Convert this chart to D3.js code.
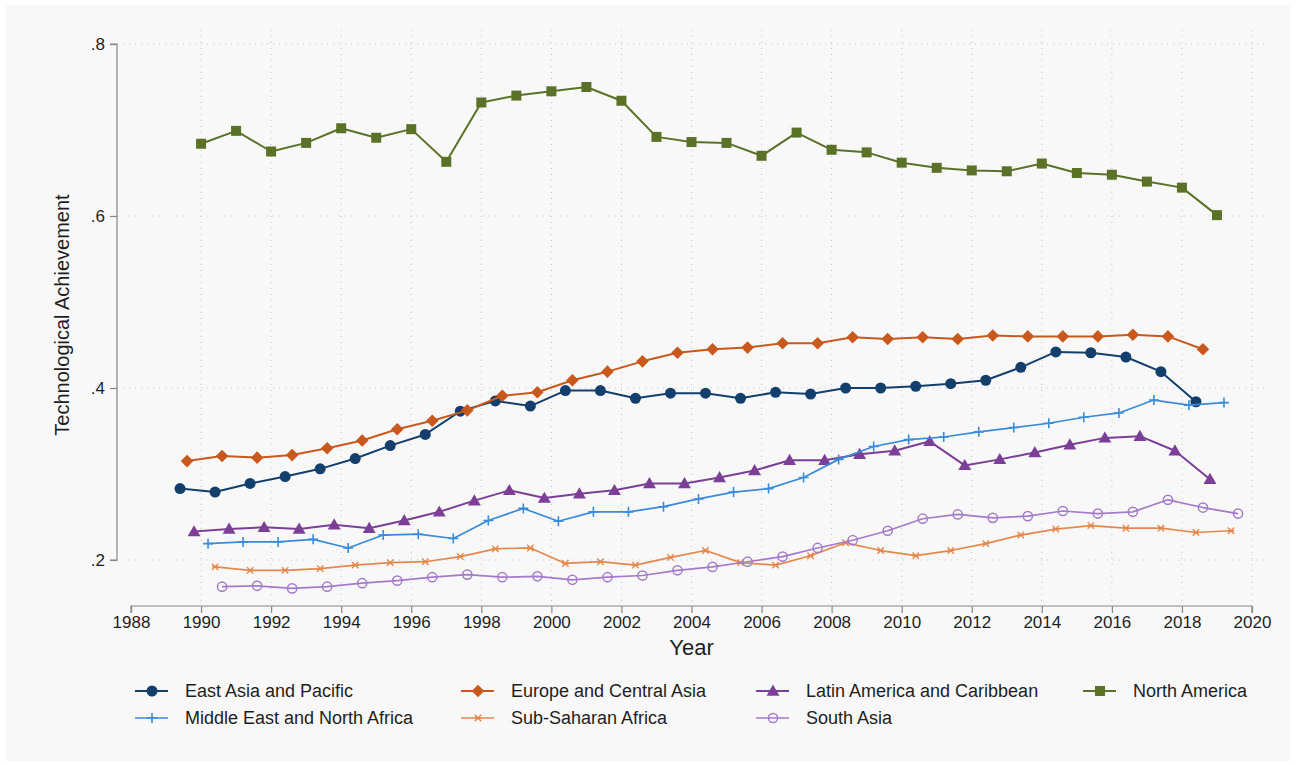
<!DOCTYPE html>
<html><head><meta charset="utf-8">
<script src="https://cdn.jsdelivr.net/npm/d3@7"></script>
<style>
body{margin:0;background:#fff}
svg{display:block}
text{font-family:"Liberation Sans",Arial,Helvetica,sans-serif;fill:#1e1e1e}
</style>
</head><body>
<svg id="c" width="1296" height="765"></svg>
<script>
const years = [1990,1991,1992,1993,1994,1995,1996,1997,1998,1999,2000,2001,2002,2003,2004,2005,2006,2007,2008,2009,2010,2011,2012,2013,2014,2015,2016,2017,2018,2019];
const xTicks = [1988,1990,1992,1994,1996,1998,2000,2002,2004,2006,2008,2010,2012,2014,2016,2018,2020];
const yTicks = [0.2,0.4,0.6,0.8];
const seriesNames = ["East Asia and Pacific","Europe and Central Asia","Latin America and Caribbean","North America","Middle East and North Africa","Sub-Saharan Africa","South Asia"];
const eastAsia = [0.283,0.279,0.289,0.297,0.306,0.318,0.333,0.346,0.373,0.385,0.379,0.397,0.397,0.388,0.394,0.394,0.388,0.395,0.393,0.400,0.400,0.402,0.405,0.409,0.424,0.442,0.441,0.436,0.419,0.384];
const europe = [0.315,0.321,0.319,0.322,0.330,0.339,0.352,0.362,0.374,0.391,0.395,0.409,0.419,0.431,0.441,0.445,0.447,0.452,0.452,0.459,0.457,0.459,0.457,0.461,0.460,0.460,0.460,0.462,0.460,0.445];
const latAm = [0.233,0.236,0.238,0.236,0.241,0.237,0.246,0.256,0.269,0.281,0.272,0.277,0.281,0.289,0.289,0.296,0.304,0.316,0.316,0.323,0.327,0.338,0.310,0.317,0.325,0.334,0.342,0.344,0.327,0.294];
const northAmerica = [0.684,0.699,0.675,0.685,0.702,0.691,0.701,0.663,0.732,0.740,0.745,0.750,0.734,0.692,0.686,0.685,0.670,0.697,0.677,0.674,0.662,0.656,0.653,0.652,0.661,0.650,0.648,0.640,0.633,0.601];
const mena = [0.219,0.221,0.221,0.224,0.214,0.229,0.230,0.225,0.246,0.260,0.245,0.256,0.256,0.262,0.271,0.279,0.283,0.296,0.317,0.332,0.340,0.343,0.349,0.354,0.359,0.366,0.371,0.386,0.380,0.383];
const ssa = [0.192,0.188,0.188,0.190,0.194,0.197,0.198,0.204,0.213,0.214,0.196,0.198,0.194,0.203,0.211,0.197,0.194,0.205,0.220,0.211,0.205,0.211,0.219,0.229,0.236,0.240,0.237,0.237,0.232,0.234];
const southAsia = [0.169,0.170,0.167,0.169,0.173,0.176,0.180,0.183,0.180,0.181,0.177,0.180,0.182,0.188,0.192,0.198,0.204,0.214,0.223,0.234,0.248,0.253,0.249,0.251,0.257,0.254,0.256,0.270,0.261,0.254];
const seriesValues = [eastAsia, europe, latAm, northAmerica, mena, ssa, southAsia];

const colors = ["#133f6d","#c9581d","#7b3f97","#5b7127","#3a8bd9","#e5884d","#a47bc9"];
const markers = ["circle","diamond","triangle","square","plus","cross","hollow"];

const svg = d3.select("#c");
svg.append("rect").attr("x",6).attr("y",5).attr("width",1284).attr("height",757).attr("fill","#f8f8f8");

const x = d3.scaleLinear().domain([1988,2020]).range([131,1252]);
const y = d3.scaleLinear().domain([0.2,0.8]).range([560,44]);

// grid
const grid = svg.append("g").attr("stroke","#c4c4c4").attr("stroke-width",1).attr("stroke-dasharray","1,5");
grid.selectAll("line.h").data(yTicks).join("line")
  .attr("x1",117).attr("x2",1266).attr("y1",d=>y(d)).attr("y2",d=>y(d));
grid.selectAll("line.v").data(xTicks.filter(d=>d>1988)).join("line")
  .attr("y1",30).attr("y2",604).attr("x1",d=>x(d)).attr("x2",d=>x(d));

// y axis
const yAxis = d3.axisLeft(y).tickValues(yTicks).tickSize(7).tickPadding(5)
  .tickFormat(d=>d3.format(".1f")(d).replace(/^0/,""));
const gy = svg.append("g").attr("transform","translate(117,0)").call(yAxis);
gy.select(".domain").attr("stroke","#888").attr("stroke-width",1.2).attr("d","M-7,"+y(0.8)+"H0V"+y(0.2)+"H-7");
gy.selectAll(".tick line").attr("stroke","#888").attr("stroke-width",1.2);
gy.selectAll(".tick text").attr("font-size",17).style("font-family","'Liberation Sans',Arial,sans-serif").attr("fill","#1e1e1e");

// x axis
const xAxis = d3.axisBottom(x).tickValues(xTicks).tickSize(7).tickPadding(3).tickFormat(d3.format("d"));
const gx = svg.append("g").attr("transform","translate(0,606)").call(xAxis);
gx.select(".domain").attr("stroke","#888").attr("stroke-width",1.2).attr("d","M"+x(1988)+",7V0H"+x(2020)+"V7");
gx.selectAll(".tick line").attr("stroke","#888").attr("stroke-width",1.2);
gx.selectAll(".tick text").attr("font-size",17).style("font-family","'Liberation Sans',Arial,sans-serif").attr("fill","#1e1e1e");

// titles
svg.append("text").attr("x",x(2004)).attr("y",655).attr("text-anchor","middle").attr("font-size",22).text("Year");
svg.append("text").attr("transform","translate(69,315) rotate(-90)").attr("text-anchor","middle").attr("font-size",20).text("Technological Achievement");

function drawMarker(g, type, color, cx, cy){
  if(type==="circle"){
    g.append("circle").attr("cx",cx).attr("cy",cy).attr("r",5.5).attr("fill",color);
  } else if(type==="diamond"){
    const r = 6.3;
    g.append("path").attr("d",`M${cx},${cy-r}L${cx+r},${cy}L${cx},${cy+r}L${cx-r},${cy}Z`).attr("fill",color);
  } else if(type==="triangle"){
    g.append("path").attr("transform",`translate(${cx},${cy+1})`).attr("d",d3.symbol(d3.symbolTriangle,72)()).attr("fill",color);
  } else if(type==="square"){
    g.append("path").attr("transform",`translate(${cx},${cy})`).attr("d",d3.symbol(d3.symbolSquare,100)()).attr("fill",color);
  } else if(type==="plus"){
    g.append("path").attr("d",`M${cx-5},${cy}H${cx+5}M${cx},${cy-5}V${cy+5}`).attr("stroke",color).attr("stroke-width",1.6).attr("fill","none");
  } else if(type==="cross"){
    g.append("path").attr("d",`M${cx-3.2},${cy-3.2}L${cx+3.2},${cy+3.2}M${cx-3.2},${cy+3.2}L${cx+3.2},${cy-3.2}M${cx-3.2},${cy}H${cx+3.2}`).attr("stroke",color).attr("stroke-width",1.4).attr("fill","none");
  } else if(type==="hollow"){
    g.append("circle").attr("cx",cx).attr("cy",cy).attr("r",4.6).attr("fill","none").attr("stroke",color).attr("stroke-width",1.5);
  }
}

const lineWidths = [2,2,2,2,1.7,1.7,1.7];
const plot = svg.append("g");
seriesValues.forEach((vals,i)=>{
  const offset = (i-3)*0.2; // dodge position of each region
  const pts = years.map((yr,j)=>[x(yr+offset), y(vals[j])]);
  plot.append("path").attr("d",d3.line()(pts)).attr("fill","none").attr("stroke",colors[i]).attr("stroke-width",lineWidths[i]).attr("stroke-linejoin","round");
  const mg = plot.append("g");
  pts.forEach(p=>drawMarker(mg, markers[i], colors[i], p[0], p[1]));
});

// legend
const legCols = [152,478,773,1100];
const legRows = [691,718];
const order = [[0,0,0],[1,1,0],[2,2,0],[3,3,0],[4,0,1],[5,1,1],[6,2,1]];
const lg = svg.append("g");
order.forEach(([si,ci,ri])=>{
  const cx = legCols[ci], cy = legRows[ri];
  lg.append("line").attr("x1",cx-17).attr("x2",cx+16).attr("y1",cy).attr("y2",cy).attr("stroke",colors[si]).attr("stroke-width",lineWidths[si]);
  drawMarker(lg, markers[si], colors[si], cx, cy);
  lg.append("text").attr("x",cx+33).attr("y",cy+6).attr("font-size",18).text(seriesNames[si]);
});
</script>
</body></html>
